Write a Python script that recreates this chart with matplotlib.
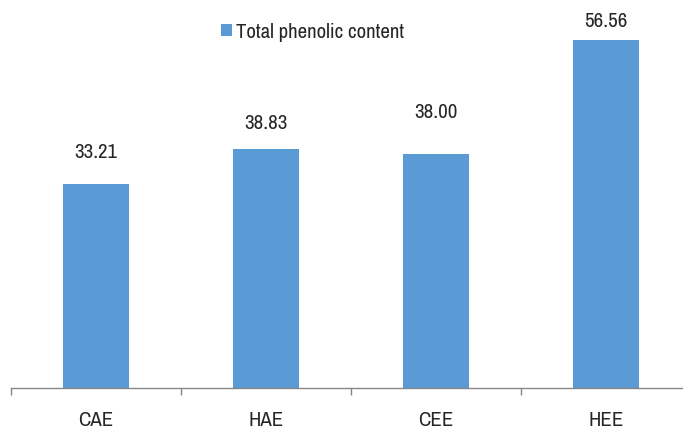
import matplotlib
matplotlib.use("Agg")
import matplotlib.pyplot as plt
from matplotlib.patches import Patch
from matplotlib import font_manager

categories = ["CAE", "HAE", "CEE", "HEE"]
values = [33.21, 38.83, 38.00, 56.56]
series_name = "Total phenolic content"

# vertical gap (points) between each bar top and its value label
label_gaps = [19.4, 15.1, 26.6, 10.1]

# prefer a narrow sans face if one is installed
fonts = font_manager.fontManager.ttflist
narrow = None
for f in fonts:
    if ("Narrow" in f.name or "Condensed" in f.name) and f.weight in (400, "normal", "regular"):
        narrow = f.name
        break
if narrow is None:
    for f in fonts:
        if f.stretch in ("condensed", "semi-condensed") and f.weight in (400, "normal", "regular") \
                and f.style == "normal":
            narrow = f.name
            break
names = {f.name for f in fonts}
fam = [n for n in [narrow, "Open Sans", "DejaVu Sans"] if n and n in names]
plt.rcParams["font.family"] = fam
cond_stretch = "normal"
for f in fonts:
    if f.name == fam[0] and f.stretch in ("condensed", "semi-condensed"):
        cond_stretch = f.stretch
        break
plt.rcParams["font.stretch"] = cond_stretch

W, H = 683, 431
fig = plt.figure(figsize=(W / 100, H / 100), dpi=100)
fig.patch.set_facecolor("white")

left, base, cat_w, px_per_unit, ymax = 11, 389, 170, 6.153, 60
ax = fig.add_axes([left / W, (H - base) / H, 4 * cat_w / W, ymax * px_per_unit / H])
ax.set_xlim(-0.5, 3.5)
ax.set_ylim(0, ymax)

color = "#5B9BD5"
text_color = "#262626"
fs = 15
x = range(len(categories))
ax.bar(x, values, width=0.39, color=color, zorder=2)

for xi, v, g in zip(x, values, label_gaps):
    ax.annotate(f"{v:.2f}", (xi, v), xytext=(0, g), textcoords="offset points",
                ha="center", va="baseline", fontsize=fs, color=text_color)

for s in ["top", "right", "left"]:
    ax.spines[s].set_visible(False)
ax.spines["bottom"].set_color("#868686")
ax.spines["bottom"].set_linewidth(1.0)
ax.set_yticks([])

ax.set_xticks(list(x))
ax.set_xticklabels(categories, fontsize=fs, color=text_color)
ax.tick_params(axis="x", which="major", length=0, pad=16)
ax.set_xticks([-0.5, 0.5, 1.5, 2.5, 3.5], minor=True)
ax.tick_params(axis="x", which="minor", length=5, color="#868686", width=1.0)

fig.legend(handles=[Patch(facecolor=color, label=series_name)],
           loc="center left", bbox_to_anchor=(215 / W, 1 - 33 / H),
           frameon=False, fontsize=fs, handlelength=0.5, handleheight=0.5,
           handletextpad=0.2, labelcolor=text_color, borderaxespad=0, borderpad=0.3)

fig.savefig("out.png", dpi=100)
